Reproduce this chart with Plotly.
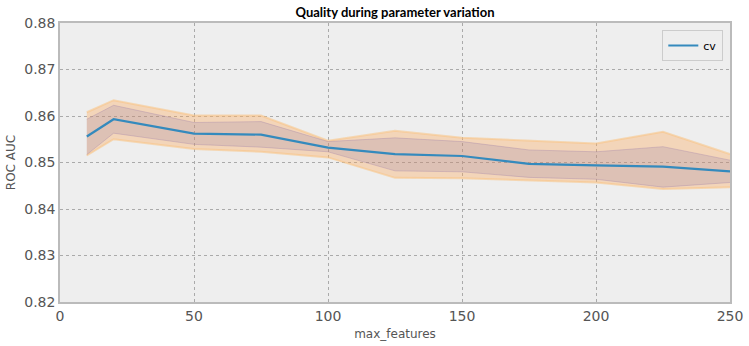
import plotly.graph_objects as go

max_features = [10, 20, 50, 75, 100, 125, 150, 175, 200, 225, 250]
cv_mean = [0.8556, 0.8593, 0.8562, 0.8560, 0.8532, 0.8518, 0.8514, 0.8497, 0.8494, 0.8491, 0.8481]
inner_upper = [0.8593, 0.8623, 0.8586, 0.8588, 0.8545, 0.8553, 0.8545, 0.8527, 0.8523, 0.8534, 0.8505]
inner_lower = [0.8517, 0.8563, 0.8539, 0.8533, 0.8523, 0.8482, 0.8480, 0.8468, 0.8464, 0.8447, 0.8457]
outer_upper = [0.8608, 0.8634, 0.8601, 0.8601, 0.8547, 0.8568, 0.8553, 0.8547, 0.8541, 0.8566, 0.8518]
outer_lower = [0.8515, 0.8550, 0.8529, 0.8523, 0.8511, 0.8467, 0.8466, 0.8462, 0.8457, 0.8443, 0.8447]

BG = "#EEEEEE"
GRID = "#AAAAAA"
TICK = "#555555"

fig = go.Figure()
fig.add_trace(go.Scatter(x=max_features, y=outer_lower, mode="lines",
                         line=dict(color="rgba(250,195,130,0.55)", width=2),
                         showlegend=False, hoverinfo="skip"))
fig.add_trace(go.Scatter(x=max_features, y=outer_upper, mode="lines", fill="tonexty",
                         fillcolor="rgba(255,165,80,0.33)",
                         line=dict(color="rgba(250,195,130,0.55)", width=2),
                         showlegend=False, hoverinfo="skip"))
fig.add_trace(go.Scatter(x=max_features, y=inner_lower, mode="lines",
                         line=dict(color="rgba(160,130,170,0.35)", width=1),
                         showlegend=False, hoverinfo="skip"))
fig.add_trace(go.Scatter(x=max_features, y=inner_upper, mode="lines", fill="tonexty",
                         fillcolor="rgba(122,104,166,0.18)",
                         line=dict(color="rgba(160,130,170,0.35)", width=1),
                         showlegend=False, hoverinfo="skip"))
fig.add_trace(go.Scatter(x=max_features, y=cv_mean, mode="lines", name="cv",
                         line=dict(color="#348ABD", width=2.2)))

axis_common = dict(showgrid=True, gridcolor=GRID, griddash="dot", gridwidth=1,
                   showline=True, linecolor="#BBBBBB", linewidth=1.5, mirror=True,
                   zeroline=False, ticks="", automargin=False,
                   tickfont=dict(family="DejaVu Sans", size=14, color=TICK))

fig.update_layout(
    width=749, height=346,
    margin=dict(l=60, r=19, t=23, b=44),
    paper_bgcolor="white", plot_bgcolor=BG,
    title=dict(text="<b>Quality during parameter variation</b>", x=395/749, xanchor="center",
               y=1 - 12/346, yanchor="middle", font=dict(family="Lato", size=13, color="black")),
    xaxis=dict(range=[0, 250], tickvals=[0, 50, 100, 150, 200, 250],
               title=dict(text="max_features", font=dict(family="DejaVu Sans", size=12, color=TICK), standoff=7),
               **axis_common),
    yaxis=dict(range=[0.82, 0.88], tickvals=[0.82, 0.83, 0.84, 0.85, 0.86, 0.87, 0.88],
               tickformat=".2f",
               title=dict(text="ROC AUC", font=dict(family="DejaVu Sans", size=12, color=TICK), standoff=6),
               **axis_common),
    legend=dict(x=0.99, y=0.975, xanchor="right", yanchor="top", bgcolor=BG,
                bordercolor="#CCCCCC", borderwidth=1,
                font=dict(family="DejaVu Sans", size=11, color="black")),
    showlegend=True,
)

fig.write_html("out.html")
